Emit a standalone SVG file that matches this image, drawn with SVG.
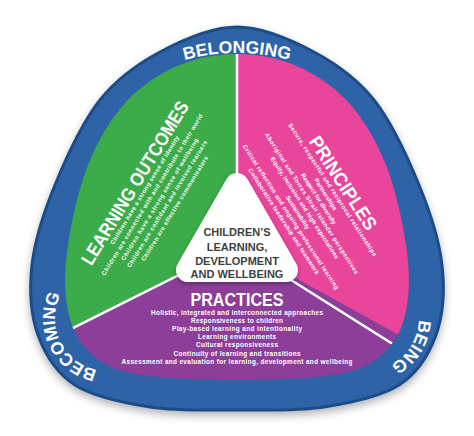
<svg xmlns="http://www.w3.org/2000/svg" width="474" height="436" viewBox="0 0 474 436">
<defs>
<style>
text { font-family: "Liberation Sans", Arial, sans-serif; font-weight: bold; fill: #ffffff; }
.ring { font-size: 17.5px; }
.title { font-size: 19px; text-anchor: middle; }
.item { font-size: 6px; text-anchor: middle; }
.pitem { font-size: 6.4px; text-anchor: middle; }
.ctr { font-size: 11px; text-anchor: middle; fill: #3f3f3f; }
.divider { stroke: #ffffff; stroke-width: 2.5; fill: none; }
</style>
<clipPath id="inner">
<path d="M 237 54 C 217 54 195.7 57.8 177 66 C 158.3 74.2 139.8 86.5 125 103 C 110.2 119.5 97.5 141.3 88 165 C 78.5 188.7 71.5 221.7 68 245 C 64.5 268.3 64.2 288 67 305 C 69.8 322 74.5 335.7 85 347 C 95.5 358.3 104.7 367.5 130 373 C 155.3 378.5 201.3 380 237 380 C 272.7 380 318.7 378.5 344 373 C 369.3 367.5 378.5 358.3 389 347 C 399.5 335.7 404.2 322 407 305 C 409.8 288 409.5 268.3 406 245 C 402.5 221.7 395.5 188.7 386 165 C 376.5 141.3 363.8 119.5 349 103 C 334.2 86.5 315.7 74.2 297 66 C 278.3 57.8 257 54 237 54 Z"/>
</clipPath>
<filter id="shadow" x="-10%" y="-10%" width="120%" height="130%">
<feDropShadow dx="0" dy="4" stdDeviation="4" flood-color="#000000" flood-opacity="0.3"/>
</filter>
<filter id="soft" x="-20%" y="-20%" width="140%" height="140%">
<feDropShadow dx="0" dy="2" stdDeviation="2" flood-color="#000000" flood-opacity="0.3"/>
</filter>
<path id="arcTop" d="M 110.3 99.1 A 197 197 0 0 1 363.7 99.1"/>
<path id="arcLeft" d="M 98.8 370.2 A 53 53 0 0 1 61.2 293.1"/>
<path id="arcRight" d="M 414 295.6 A 53 53 0 0 1 366.9 371"/>
</defs>

<g id="outer-ring">
<path d="M 237 27 C 211.3 27 182.8 39.8 160 52 C 137.2 64.2 117.5 77.8 100 100 C 82.5 122.2 66.3 157.5 55 185 C 43.7 212.5 34.8 240 32 265 C 29.2 290 30.8 315 38 335 C 45.2 355 56.3 373 75 385 C 93.7 397 123 402.8 150 407 C 177 411.2 208 410 237 410 C 266 410 297 411.2 324 407 C 351 402.8 380.3 397 399 385 C 417.7 373 428.8 355 436 335 C 443.2 315 444.8 290 442 265 C 439.2 240 430.3 212.5 419 185 C 407.7 157.5 391.5 122.2 374 100 C 356.5 77.8 336.8 64.2 314 52 C 291.2 39.8 262.7 27 237 27 Z" fill="#2d64a8" stroke="#1d4c88" stroke-width="3" filter="url(#shadow)"/>
<text class="ring"><textPath href="#arcTop" startOffset="50%" text-anchor="middle">BELONGING</textPath></text>
<text class="ring"><textPath href="#arcLeft" startOffset="50%" text-anchor="middle">BECOMING</textPath></text>
<text class="ring"><textPath href="#arcRight" startOffset="50%" text-anchor="middle">BEING</textPath></text>
</g>

<g id="sections" clip-path="url(#inner)">
<polygon id="learning-outcomes-bg" points="237,0 237,246 -10,369.5 -10,0" fill="#3cab4a"/>
<polygon id="principles-bg" points="237,0 237,246 484,381.9 484,0" fill="#e8459b"/>
<polygon id="practices-bg" points="237,246 -10,369.5 -10,440 484,440 484,381.9" fill="#8c3e98"/>
</g>

<g id="connectors" clip-path="url(#inner)">
<line class="divider" x1="237" y1="40" x2="237" y2="246"/>
<line class="divider" x1="237" y1="246" x2="30" y2="349.5"/>
<line class="divider" x1="237" y1="246" x2="444" y2="376.4"/>
</g>

<g id="learning-outcomes" transform="translate(135,183) rotate(-58.5)">
<text class="title" x="0" y="6.5" textLength="188" lengthAdjust="spacingAndGlyphs">LEARNING OUTCOMES</text>
<text class="item" x="-1" y="14" textLength="126">Children have a strong sense of identity</text>
<text class="item" x="-1" y="22.8" textLength="188">Children are connected with and contribute to their world</text>
<text class="item" x="-1" y="31.6" textLength="142">Children have a strong sense of wellbeing</text>
<text class="item" x="-1" y="40.4" textLength="148">Children are confident and involved learners</text>
<text class="item" x="-1" y="49.2" textLength="122">Children are effective communicators</text>
</g>

<g id="principles" transform="translate(343,183) rotate(57)">
<text class="title" x="0" y="6.5" textLength="108" lengthAdjust="spacingAndGlyphs">PRINCIPLES</text>
<text class="item" x="0" y="14.5" textLength="157">Secure, respectful and reciprocal relationships</text>
<text class="item" x="0" y="22.8">Partnerships</text>
<text class="item" x="0" y="31.1">Respect for diversity</text>
<text class="item" x="0" y="39.4" textLength="167">Aboriginal and Torres Strait Islander perspectives</text>
<text class="item" x="0" y="47.7" textLength="120">Equity, inclusion and high expectations</text>
<text class="item" x="0" y="56">Sustainability</text>
<text class="item" x="0" y="64.3" textLength="171">Critical reflection and ongoing professional learning</text>
<text class="item" x="0" y="72.6" textLength="125">Collaborative leadership and teamwork</text>
</g>

<g id="practices">
<text class="title" x="237" y="306" textLength="93" lengthAdjust="spacingAndGlyphs">PRACTICES</text>
<text class="pitem" x="237" y="314.5" textLength="172">Holistic, integrated and interconnected approaches</text>
<text class="pitem" x="237" y="322.7" textLength="92">Responsiveness to children</text>
<text class="pitem" x="237" y="330.9" textLength="130">Play-based learning and intentionality</text>
<text class="pitem" x="237" y="339.1" textLength="78">Learning environments</text>
<text class="pitem" x="237" y="347.3" textLength="82">Cultural responsiveness</text>
<text class="pitem" x="237" y="355.5" textLength="127">Continuity of learning and transitions</text>
<text class="pitem" x="237" y="363.7" textLength="231">Assessment and evaluation for learning, development and wellbeing</text>
</g>

<g id="center">
<polygon points="237,185 188,270 286,270" fill="#ffffff" stroke="#ffffff" stroke-width="24" stroke-linejoin="round" filter="url(#soft)"/>
<text class="ctr" x="237" y="236.3">CHILDREN’S</text>
<text class="ctr" x="237" y="251.3">LEARNING,</text>
<text class="ctr" x="237" y="265">DEVELOPMENT</text>
<text class="ctr" x="237" y="278">AND WELLBEING</text>
</g>
</svg>
